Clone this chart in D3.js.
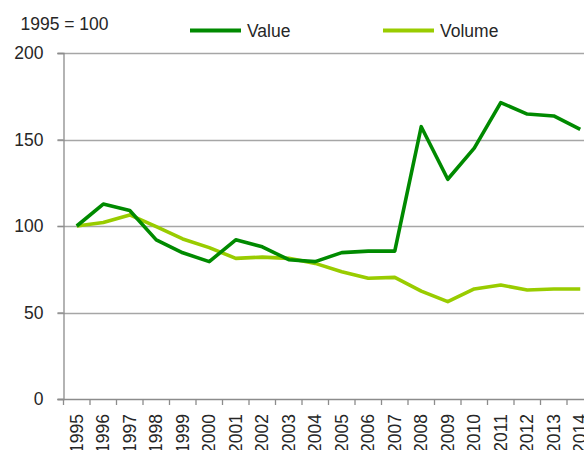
<!DOCTYPE html>
<html>
<head>
<meta charset="utf-8">
<script src="https://cdn.jsdelivr.net/npm/d3@7"></script>
<style>
  body { margin: 0; background: #fff; }
  svg text { font-family: "Liberation Sans", Arial, sans-serif; fill: #262626; }
</style>
</head>
<body>
<div id="chart-container"></div>
<script>
(function() {
'use strict';

const years = ['1995','1996','1997','1998','1999','2000','2001','2002','2003','2004',
               '2005','2006','2007','2008','2009','2010','2011','2012','2013','2014'];
const valueSeries = [100, 112.7, 109, 92, 84.5, 79.4, 92, 88, 80.5, 79.4,
                     84.6, 85.5, 85.5, 157.4, 127, 145, 171.3, 164.7, 163.6, 155.9];
const volumeSeries = [100, 102, 106.4, 99.6, 92.5, 87.5, 81.3, 82, 81.3, 78.4,
                      73.6, 69.8, 70.3, 62.4, 56.3, 63.6, 65.9, 63, 63.6, 63.6];
const yTicks = [0, 50, 100, 150, 200];
const seriesNames = ['Value', 'Volume'];
const seriesColors = ['#008a00', '#99cc00'];
const unitLabel = '1995 = 100';

const W = 584;
const H = 450;
const LEFT = 63.5;
const TOP = 53;
const BOTTOM = 399;
const STEP = 26.5;

const svg = d3.select('#chart-container')
  .append('svg')
    .attr('width', W)
    .attr('height', H);

const xScale = d3.scaleBand()
  .domain(years)
  .range([LEFT, LEFT + STEP * years.length]);

const yScale = d3.scaleLinear()
  .domain([0, 200])
  .range([BOTTOM, TOP]);

// gridlines
svg.append('g')
  .selectAll('line')
  .data(yTicks.filter(d => d > 0))
  .enter()
  .append('line')
    .attr('x1', LEFT - 6)
    .attr('x2', W)
    .attr('y1', d => Math.round(yScale(d)) + 0.5)
    .attr('y2', d => Math.round(yScale(d)) + 0.5)
    .attr('stroke', '#a6a6a6')
    .attr('stroke-width', 1.3);

// y axis
const yAxis = d3.axisLeft(yScale)
  .tickValues(yTicks)
  .tickSize(6)
  .tickPadding(14);

svg.append('g')
  .attr('id', 'y-axis')
  .attr('transform', `translate(${LEFT}, 0)`)
  .call(yAxis)
  .call(g => g.select('.domain').attr('stroke', '#8c8c8c').attr('stroke-width', 1.3))
  .call(g => g.selectAll('.tick line').attr('stroke', '#8c8c8c').attr('stroke-width', 1.3))
  .call(g => g.selectAll('.tick text')
    .style('font-size', '17.5px')
    .attr('fill', '#262626'));

// x axis
const xAxis = d3.axisBottom(xScale).tickSize(0).tickPadding(0);

const xg = svg.append('g')
  .attr('id', 'x-axis')
  .attr('transform', `translate(0, ${BOTTOM})`)
  .call(xAxis);

xg.select('.domain').remove();
xg.append('line')
  .attr('x1', LEFT - 6)
  .attr('x2', W)
  .attr('y1', 0.5)
  .attr('y2', 0.5)
  .attr('stroke', '#8c8c8c')
  .attr('stroke-width', 1.3);

xg.selectAll('.boundary')
  .data(years)
  .enter()
  .append('line')
    .attr('class', 'boundary')
    .attr('x1', d => xScale(d))
    .attr('x2', d => xScale(d))
    .attr('y1', 0)
    .attr('y2', 6)
    .attr('stroke', '#8c8c8c')
    .attr('stroke-width', 1.3);

xg.selectAll('.tick text')
  .style('font-size', '17.5px')
  .attr('fill', '#262626')
  .attr('text-anchor', 'end')
  .attr('dy', '0.35em')
  .attr('transform', 'translate(0, 15) rotate(-90)');

// lines
const line = d3.line()
  .x((d, i) => xScale(years[i]) + xScale.bandwidth() / 2)
  .y(d => yScale(d));

[volumeSeries, valueSeries].forEach(function(s, k) {
  svg.append('path')
    .datum(s)
    .attr('fill', 'none')
    .attr('stroke', seriesColors[1 - k])
    .attr('stroke-width', 3.6)
    .attr('stroke-linejoin', 'round')
    .attr('d', line);
});

// unit label
svg.append('text')
  .attr('x', 20.5)
  .attr('y', 29.5)
  .style('font-size', '17.5px')
  .text(unitLabel);

// legend
const legendX = [190, 383];
seriesNames.forEach(function(name, i) {
  svg.append('line')
    .attr('x1', legendX[i])
    .attr('x2', legendX[i] + 51)
    .attr('y1', 30.5)
    .attr('y2', 30.5)
    .attr('stroke', seriesColors[i])
    .attr('stroke-width', 4);
  svg.append('text')
    .attr('x', legendX[i] + 57)
    .attr('y', 36.5)
    .style('font-size', '17.5px')
    .text(name);
});

})();
</script>
</body>
</html>
